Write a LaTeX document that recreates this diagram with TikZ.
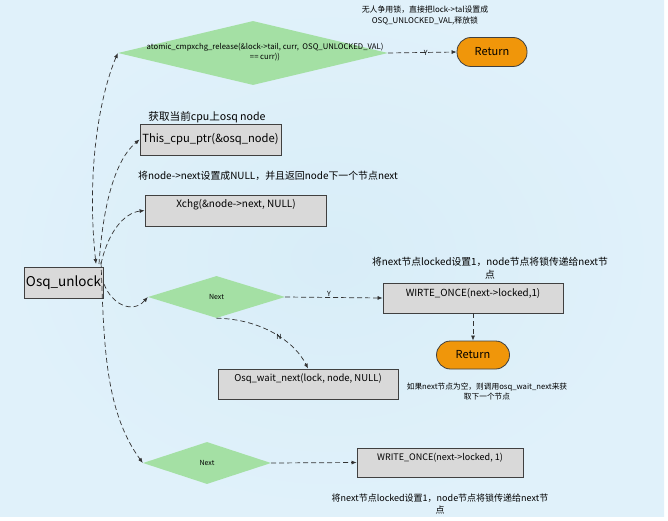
\documentclass[tikz,border=0pt]{standalone}
\usepackage{fontspec}
\setmainfont{Noto Sans CJK SC}
\usetikzlibrary{shapes.geometric,arrows.meta}
\definecolor{bgblue}{HTML}{E0F1FA}
\definecolor{bginner}{HTML}{D8EDF8}
\definecolor{dgreen}{HTML}{A4E0A4}
\definecolor{boxgray}{HTML}{D9D9D9}
\definecolor{edgegray}{HTML}{404040}
\definecolor{retorange}{HTML}{F0960A}
\definecolor{linegray}{HTML}{333333}
\tikzset{
  dec/.style={diamond, fill=dgreen, inner sep=0pt, aspect=1},
  procbox/.style={rectangle, draw=edgegray, line width=0.8pt, fill=boxgray, inner sep=0pt},
  retbox/.style={rectangle, rounded corners=14pt, draw=edgegray, line width=0.8pt, fill=retorange, inner sep=0pt, font=\fontsize{11}{13}\selectfont},
  note/.style={align=center, inner sep=0pt, text=black},
  conn/.style={draw=linegray, line width=0.7pt, dash pattern=on 5pt off 3pt, -{Latex[length=5pt,width=4pt]}},
  elbl/.style={inner sep=1pt, font=\fontsize{7}{8}\selectfont}
}
\begin{document}
\begin{tikzpicture}[x=1pt,y=-1pt]
\useasboundingbox (0,0) rectangle (668,521);
\shade[inner color=bginner, outer color=bgblue] (0,1) rectangle (664,516);

% decision diamonds
\node[dec, minimum width=270pt, minimum height=64pt] (d1) at (253,53) {};
\node[note, font=\fontsize{7.7}{10}\selectfont] at (265,52) {atomic\_cmpxchg\_release(\&lock->tail, curr,\ \ OSQ\_UNLOCKED\_VAL)\\== curr))};
\node[dec, minimum width=137pt, minimum height=42pt, font=\fontsize{7}{8}\selectfont] (d2) at (216.5,297) {Next};
\node[dec, minimum width=128pt, minimum height=42pt, font=\fontsize{7}{8}\selectfont] (d3) at (207,463) {Next};

% returns
\node[retbox, minimum width=70pt, minimum height=29pt] (r1) at (492,52) {Return};
\node[retbox, minimum width=73pt, minimum height=28pt] (r2) at (473,355) {Return};

% process boxes
\node[procbox, minimum width=79pt, minimum height=31pt, font=\fontsize{13.5}{15}\selectfont] (osq) at (63.5,282.5) {Osq\_unlock};
\node[procbox, minimum width=141pt, minimum height=31pt, font=\fontsize{11.2}{12}\selectfont] (cpu) at (210.5,139.5) {This\_cpu\_ptr(\&osq\_node)};
\node[procbox, minimum width=181pt, minimum height=31pt] (xchg) at (235.5,210.5) {};
\node[font=\fontsize{10}{11}\selectfont, inner sep=0pt] at (236,205) {Xchg(\&node->next, NULL)};
\node[procbox, minimum width=180pt, minimum height=30pt] (wirte) at (473,298) {};
\node[font=\fontsize{9.8}{11}\selectfont, inner sep=0pt] at (473,293) {WIRTE\_ONCE(next->locked,1)};
\node[procbox, minimum width=180pt, minimum height=30pt] (wait) at (308,384) {};
\node[font=\fontsize{9.5}{11}\selectfont, inner sep=0pt] at (308,379) {Osq\_wait\_next(lock, node, NULL)};
\node[procbox, minimum width=166pt, minimum height=29pt] (write) at (440,462.5) {};
\node[font=\fontsize{9}{10}\selectfont, inner sep=0pt] at (440,458) {WRITE\_ONCE(next->locked, 1)};

% annotations
\node[note, font=\fontsize{7.9}{11}\selectfont] at (425,15.5) {无人争用锁，直接把lock->tal设置成\\OSQ\_UNLOCKED\_VAL,释放锁};
\node[note, font=\fontsize{10.6}{12}\selectfont] at (207,117) {获取当前cpu上osq node};
\node[note, font=\fontsize{9.9}{11}\selectfont] at (268,176) {将node->next设置成NULL，并且返回node下一个节点next};
\node[note, font=\fontsize{9.8}{13}\selectfont] at (490,268.5) {将next节点locked设置1，node节点将锁传递给next节\\点};
\node[note, font=\fontsize{7.7}{10.5}\selectfont] at (487,391.5) {如果next节点为空，则调用osq\_wait\_next来获\\取下一个节点};
\node[note, font=\fontsize{9}{12}\selectfont] at (440,504.5) {将next节点locked设置1，node节点将锁传递给next节\\点};

% connectors from Osq_unlock
\coordinate (s1) at (96,264);
\coordinate (s2) at (99,264);
\coordinate (s3) at (101,264);
\coordinate (s4) at (104,284);
\coordinate (s5) at (101,262);
\draw[conn, {Latex[length=5pt,width=4pt]}-{Latex[length=5pt,width=4pt]}] (s1) .. controls (86,170) and (100,95) .. (d1.west);
\draw[conn] (s2) .. controls (103,205) and (115,160) .. (cpu.west);
\draw[conn] (s3) .. controls (108,232) and (124,213) .. (xchg.west);
\draw[conn] (s4) .. controls (112,305) and (133,314) .. (d2.west);
\draw[conn] (s5) .. controls (104,340) and (104,410) .. (d3.west);

% other connectors
\draw[conn] (d1.east) -- node[elbl, pos=0.55] {Y} (r1.west);
\draw[conn] (d2.east) -- node[elbl, above, pos=0.45] {Y} (wirte.west);
\draw[conn] (d2.south) .. controls (262,319) and (295,342) .. node[elbl, pos=0.55] {N} (wait.north);
\draw[conn] (wirte.south) -- (r2.north);
\draw[conn] (d3.east) -- (write.west);
\end{tikzpicture}
\end{document}
